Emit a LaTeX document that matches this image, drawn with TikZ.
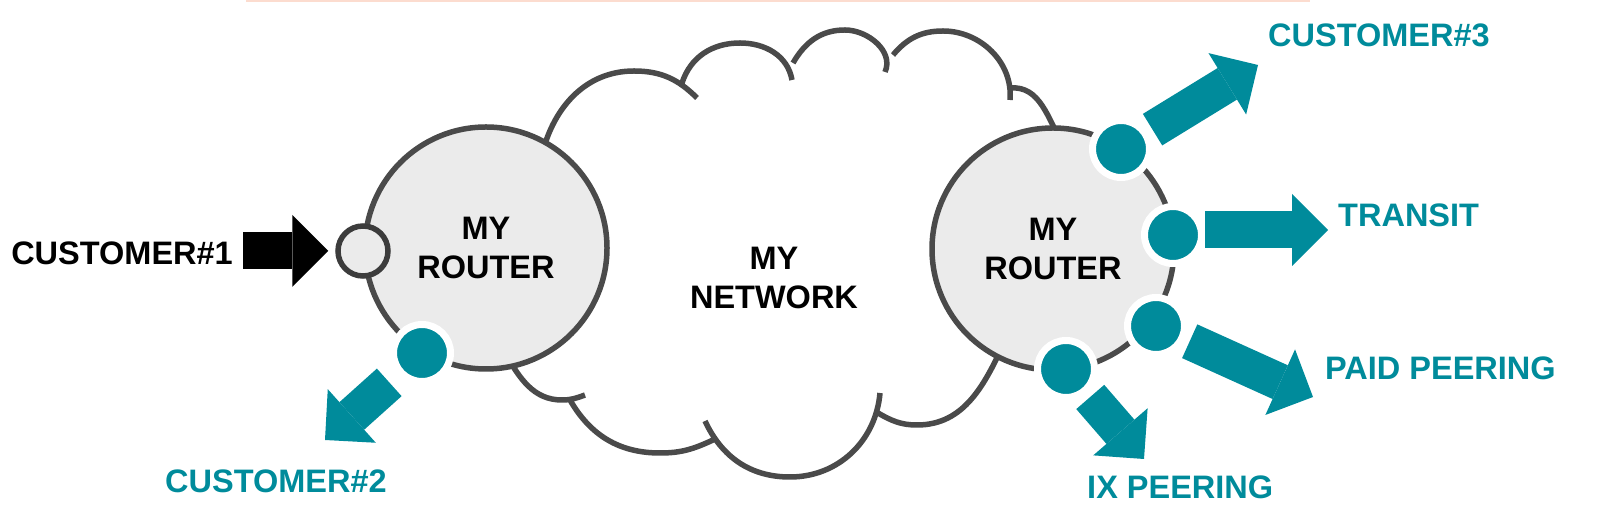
\documentclass[tikz,border=0pt]{standalone}
\usepackage{fontspec}
\setmainfont{Liberation Sans}
\usetikzlibrary{arrows.meta}
\definecolor{portteal}{HTML}{008B9B}
\definecolor{edgegray}{HTML}{4A4A4A}
\definecolor{portgray}{HTML}{3C3C3C}
\definecolor{routerfill}{HTML}{EBEBEB}
\definecolor{topline}{HTML}{FCDCCF}

\begin{document}
\begin{tikzpicture}[x=1pt, y=1pt,
        every node/.style={font=\fontsize{32.5}{39}\selectfont\bfseries, inner sep=0pt},
        router/.style={circle, draw=edgegray, line width=5.5pt, fill=routerfill, minimum size=242pt, align=center},
        port/.style={circle, draw=portgray, line width=5.5pt, fill=routerfill, minimum size=50pt},
        dot/.style={circle, draw=white, line width=7pt, fill=portteal, minimum size=57pt},
        outarrow/.style={portteal, line width=37pt, -{Triangle[length=36pt, width=72pt, line width=0pt]}, shorten <=5pt},
        inarrow/.style={outarrow, black, shorten <=0pt, shorten >=7pt},
        tlabel/.style={text=portteal, anchor=west}]
        \useasboundingbox (0,0) rectangle (1600,521);
        \fill[topline] (246,519) rectangle (1310,521);

        \draw[edgegray, line width=5.5pt]
            (541,362) to[out=78, in=180] (634,450) to[out=0, in=135] (697,423)
            (682,438) to[out=72, in=180] (740,478) to[out=0, in=100] (792,441)
            (793,458) to[out=60, in=180] (845,491) to[out=0, in=66] (885,449)
            (893,466) to[out=50, in=180] (943,490) to[out=0, in=85] (1010,421)
            (1010,433) to[out=5, in=120] (1063,376)
            (505,168) to[out=-60, in=180] (562,121) to[out=0, in=-160] (585,126)
            (570,121) to[out=-60, in=180] (660,68) to[out=0, in=-155] (713,81)
            (705,100) to[out=-65, in=180] (790,44) to[out=0, in=-95] (880,128)
            (878,108) to[out=-30, in=180] (917,96) to[out=0, in=-115] (1005,180);

        \node at (774,243.5) [align=center] (net) {MY\\NETWORK};
        \node[router] (rleft) at (486,273) {MY\\ROUTER};
        \node[router] (rright) at (1053,272) {MY\\ROUTER};

        \node[port] (port) at (363,270) {};
        \node[dot] (dleft) at (422,168) {};
        \foreach \n/\x/\y in {d1/1121/372, d2/1173/286, d3/1156/195, d4/1066/152} {
            \node[dot] (\n) at (\x, \y) {};
        }

        \node[anchor=east] (cust1) at (233,268) {CUSTOMER\#1};
        \node[tlabel] (cust2) at (165,39.5) {CUSTOMER\#2};
        \node[tlabel] (cust3) at (1268,486) {CUSTOMER\#3};
        \node[tlabel] (transit) at (1338,306) {TRANSIT};
        \node[tlabel] (paid) at (1325,152.5) {PAID PEERING};
        \node[tlabel] (ix) at (1087,33.5) {IX PEERING};

        \coordinate (c1tail) at (243,270);
        \coordinate (c2tip) at (325,81);
        \coordinate (c3tip) at (1258,456);
        \coordinate (transittip) at (1328,291);
        \coordinate (paidtip) at (1313,124);
        \coordinate (ixtip) at (1144,62);

        \draw[inarrow] (c1tail) -- (port);
        \draw[outarrow, shorten <=12pt] (dleft) -- (c2tip);
        \draw[outarrow] (d1) -- (c3tip);
        \draw[outarrow, shorten <=0pt] (d2.east |- transittip) -- (transittip);
        \draw[outarrow] (d3) -- (paidtip);
        \draw[outarrow] (d4) -- (ixtip);
    \end{tikzpicture}
\end{document}
